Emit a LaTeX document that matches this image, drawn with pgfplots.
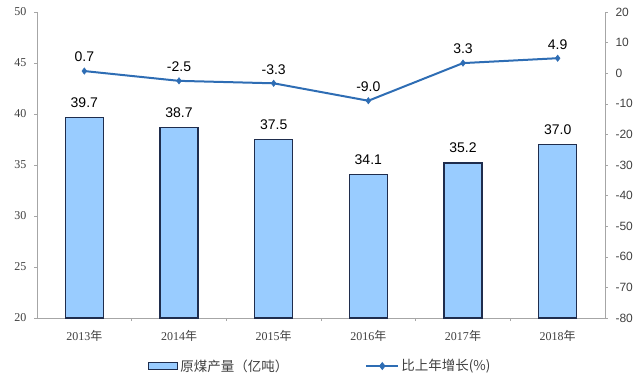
\documentclass[border=0pt]{standalone}
\usepackage{pgfplots}
\pgfplotsset{compat=1.18}
\usepackage{fontspec}
\setmainfont{Liberation Serif}
\newfontfamily\cjk{Noto Sans CJK SC}
\newfontfamily\arial{Liberation Sans}
\definecolor{barfill}{HTML}{99CCFF}
\definecolor{baredge}{HTML}{1F2D4D}
\definecolor{linecol}{HTML}{2E6DB4}
\definecolor{axgray}{HTML}{A6A6A6}
\definecolor{txt}{HTML}{404040}
\begin{document}
\begin{tikzpicture}
\path[use as bounding box] (0,0) rectangle (640pt,376pt);
\begin{axis}[
  at={(37pt,58pt)}, anchor=south west,
  width=568pt, height=306pt, scale only axis,
  xmin=-0.5, xmax=5.5, ymin=20, ymax=50,
  ytick={20,25,...,50},
  xtick={0,...,5},
  xticklabels={2013{\cjk 年},2014{\cjk 年},2015{\cjk 年},2016{\cjk 年},2017{\cjk 年},2018{\cjk 年}},
  minor xtick={0.5,1.5,2.5,3.5,4.5},
  axis x line*=bottom, axis y line*=left,
  axis line style={draw=axgray, line width=0.8pt},
  x tick style={draw=none},
  minor x tick style={draw=axgray, line width=0.6pt},
  minor tick length=3pt,
  y tick style={draw=axgray, line width=0.6pt},
  ytick align=outside, major tick length=3pt,
  xtick pos=bottom, ytick pos=left,
  /pgf/number format/assume math mode=true,
  yticklabel style={font=\fontsize{12}{12}\selectfont, text=txt, xshift=-4pt},
  xticklabel style={font=\fontsize{12}{12}\selectfont, text=txt, yshift=-6pt},
  ybar, bar width=38pt,
  nodes near coords,
  nodes near coords style={font=\arial\fontsize{14}{14}\selectfont, text=black,
    /pgf/number format/fixed, /pgf/number format/precision=1, /pgf/number format/fixed zerofill, yshift=6pt},
]
\addplot[fill=barfill, draw=baredge, line width=1.1pt] coordinates {
(0,39.7) (1,38.7) (2,37.5) (3,34.1) (4,35.2) (5,37.0)};
\end{axis}
\begin{axis}[
  at={(37pt,58pt)}, anchor=south west,
  width=568pt, height=306pt, scale only axis,
  xmin=-0.5, xmax=5.5, ymin=-80, ymax=20,
  ytick={-80,-70,...,20},
  axis x line=none, axis y line*=right,
  axis line style={draw=axgray, line width=0.8pt},
  y tick style={draw=axgray, line width=0.6pt},
  ytick align=outside, major tick length=3pt, ytick pos=right,
  /pgf/number format/assume math mode=true,
  yticklabel style={font=\arial\fontsize{12}{12}\selectfont, text=txt, xshift=4pt,
    /pgf/number format/.cd, fixed},
  legend columns=2,
  legend style={at={(0.1954,-0.157)}, anchor=west, draw=none, fill=none, inner sep=0pt,
    font=\cjk\fontsize{13.5}{13.5}\selectfont, text=txt,
    /tikz/every even column/.append style={column sep=75pt}},
  legend cell align=left,
  nodes near coords,
  nodes near coords align=center,
  nodes near coords style={font=\arial\fontsize{14}{14}\selectfont, text=black,
    /pgf/number format/fixed, /pgf/number format/precision=1, /pgf/number format/fixed zerofill, yshift=14pt},
]
\addlegendimage{legend image code/.code={\draw[fill=barfill, draw=baredge, line width=1.1pt] (0pt,-3.5pt) rectangle (29pt,3.5pt);}}
\addlegendentry{原煤产量（亿吨）}
\addplot[color=linecol, line width=2pt, mark=diamond*, mark size=3.2pt,
  mark options={fill=linecol, line width=0.5pt},
  legend image code/.code={\draw[linecol, line width=2pt] (0pt,0pt) -- (32pt,0pt); \fill[linecol] (16pt,0pt) +(0,2.5pt) -- +(2pt,0) -- +(0,-2.5pt) -- +(-2pt,0) -- cycle;}] coordinates {
(0,0.7) (1,-2.5) (2,-3.3) (3,-9.0) (4,3.3) (5,4.9)};
\addlegendentry{比上年增长(\%)}
\end{axis}
\end{tikzpicture}
\end{document}
